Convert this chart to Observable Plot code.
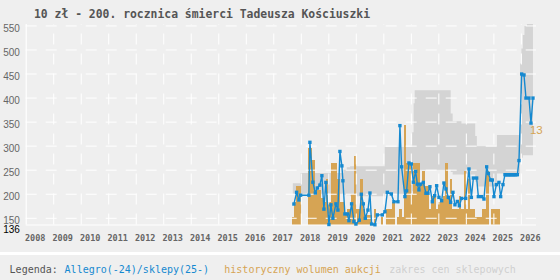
<!DOCTYPE html>
<html><head><meta charset="utf-8">
<script src="https://cdn.jsdelivr.net/npm/d3@7"></script>
<script src="https://cdn.jsdelivr.net/npm/@observablehq/plot@0.6"></script>
<style>
html,body{margin:0;padding:0;background:#efefef;}
#wrap{position:relative;width:560px;height:280px;overflow:hidden;background:#efefef;}
#title{position:absolute;left:34px;top:7px;font:bold 11.4px/14px "DejaVu Sans Mono",monospace;color:#555;white-space:pre;}
#chart{position:absolute;left:0;top:0;}
#strip{position:absolute;left:0;top:252px;width:560px;height:3px;background:#fff;}
.lg{position:absolute;top:263.5px;font:10px/12px "DejaVu Sans Mono",monospace;white-space:pre;}
</style></head>
<body><div id="wrap">
<div id="chart"></div>
<div id="title">10 zł - 200. rocznica śmierci Tadeusza Kościuszki</div>
<div id="strip"></div>
<span class="lg" style="left:9.6px;color:#555">Legenda:</span>
<span class="lg" style="left:64.6px;color:#1589d0">Allegro(-24)/sklepy(25-)</span>
<span class="lg" style="left:224.3px;color:#d6a454">historyczny wolumen aukcji</span>
<span class="lg" style="left:389.3px;color:#cfcfcf">zakres cen sklepowych</span>
</div>
<script>
// tick labels
const xYears = [2008,2009,2010,2011,2012,2013,2014,2015,2016,2017,2018,2019,2020,2021,2022,2023,2024,2025,2026];
const yTicks = [150,200,250,300,350,400,450,500,550];
const yMinLabel = [136];

// shop price range (step series)
const shopDate = [2017.71,2017.99,2019.55,2019.67,2019.79,2021.05,2022.05,2022.10,2022.14,2023.45,2023.52,2023.84,2024.34,2024.40,2025.13,2025.97,2026.02,2026.07,2026.13,2026.22,2026.44];
const shopMin  = [200,200,198,197,195,200,205,215,250,245,240,240,225,215,242,270,275,280,280,280,280];
const shopMax  = [222,243,250,255,257,297,328,388,415,367,351,346,320,299,322,471,502,530,549,553,553];

// Allegro / shop price line
const priceDate = [2017.731,2017.829,2017.913,2017.975,2018.276,2018.313,2018.422,2018.509,2018.582,2018.676,2018.749,2018.822,2018.895,2019.004,2019.076,2019.149,2019.258,2019.331,2019.404,2019.476,2019.513,2019.585,2019.673,2019.731,2019.829,2019.913,2019.985,2020.109,2020.182,2020.255,2020.327,2020.422,2020.495,2020.556,2020.676,2020.764,2020.945,2021.040,2021.127,2021.273,2021.367,2021.513,2021.585,2021.647,2021.767,2021.829,2021.913,2022.000,2022.073,2022.156,2022.218,2022.276,2022.338,2022.436,2022.531,2022.604,2022.676,2022.764,2022.847,2022.920,2023.004,2023.102,2023.185,2023.258,2023.345,2023.429,2023.513,2023.585,2023.673,2023.745,2023.829,2023.975,2024.095,2024.182,2024.255,2024.375,2024.436,2024.556,2024.640,2024.738,2024.800,2024.884,2024.945,2025.004,2025.091,2025.185,2025.247,2025.331,2025.404,2025.44,2025.48,2025.52,2025.56,2025.60,2025.64,2025.68,2025.72,2025.76,2025.80,2025.855,2025.913,2026.011,2026.095,2026.167,2026.276,2026.349,2026.422];
const priceValue = [179.6,204,188,198,198,308,225,202.5,213,219,238.5,169,224.6,137,178,150,180,167,289,259,228,159,159,145,180,143,138,146,200,180,150,167,202.5,138,136.5,157,157,163.5,204,200.5,184.4,184.4,342.7,257,195,207,265,263,225,247.5,221,209,221,224.6,202,202,215.6,184.4,197,217.7,193.4,186.5,223.3,211,193.4,183,204,178,185,176,191.3,191.3,252.5,193.4,233.7,233.7,195,195,190,257,243,229.6,229.6,195,220,224.6,195,220,240.6,240.6,240.6,240.6,240.6,240.6,240.6,240.6,240.6,240.6,240.6,240.6,270,450,448,400,400,348,400];

// monthly auction volume, first month = 2017-09
const volumeStartYear = 2017, volumeStartMonth = 8;
const volume = [1,3,5,5,0,0,0,10,10,8.5,4.5,4.5,4.5,3.5,3,6,3,8,8,8,6,3,3,1.5,2,2,4,9,2,2,6,2,1.2,1.2,1.2,0,2,0,0,1,0,2,2,2,3,0,1,2,1,13,8,8,4,8,8,8,5.4,7,5,5,2,3.7,3.7,2,3,3,3.7,8,3.7,6,2,2,2,3.7,2,7,2,6,2,2,1,1,1,2,2,7,0,2,2,2,2];
const volumeMaxLabel = [13];

const BLUE = "#1589d0", ORANGE = "#d6a454", GREY = "#d4d4d4";
const VOL_UNIT = 15.9; // price-axis units per auction (secondary volume scale)

const shop = shopDate.map((d,i)=>({date:d,min:shopMin[i],max:shopMax[i]}));
const prices = priceDate.map((d,i)=>({date:d,price:priceValue[i]}));
const bars = volume.map((v,i)=>({x1: volumeStartYear + (volumeStartMonth+i)/12, x2: volumeStartYear + (volumeStartMonth+i+1)/12, v}));
const lastDate = priceDate[priceDate.length-1];

const chart = Plot.plot({
  width: 560, height: 252,
  marginTop: 24, marginBottom: 27.5, marginLeft: 25.7, marginRight: 24,
  x: {domain: [2008, 2026.55], axis: null},
  y: {domain: [136, 553], axis: null},
  style: {background: "transparent", overflow: "visible"},
  marks: [
    Plot.areaY(shop, {x: "date", y1: "min", y2: "max", curve: "step-after", fill: GREY}),
    Plot.rectY(bars.filter(b=>b.v>0), {x1: "x1", x2: "x2", y1: 136, y2: d => 136 + d.v*VOL_UNIT, fill: ORANGE, inset: 0, shapeRendering: "crispEdges"}),
    Plot.ruleY(yTicks, {stroke: "#fff", strokeWidth: 1, strokeDasharray: "11,9"}),
    Plot.ruleX(xYears.slice(1), {y1: 136, y2: 553, stroke: "#fff", strokeWidth: 1, strokeDasharray: "11,9"}),
    Plot.ruleY([136], {stroke: "#fff", strokeWidth: 1.2}),
    Plot.ruleX([2008], {stroke: "#fff", strokeWidth: 1.2}),
    Plot.line(prices, {x: "date", y: "price", stroke: BLUE, strokeWidth: 1.4}),
    Plot.dot(prices, {x: "date", y: "price", symbol: "square", r: 1.9, fill: BLUE}),
    Plot.text(volumeMaxLabel, {x: lastDate, y: d => 136 + d*VOL_UNIT, text: d => String(d), textAnchor: "start", dx: -3, dy: 5, fill: ORANGE, fontSize: 11.5, fontFamily: "Liberation Sans"}),
    Plot.text(yTicks, {y: d => d, text: d => String(d), frameAnchor: "left", textAnchor: "end", dx: -6.3, dy: 2.4, fill: "#666", fontSize: 10, fontFamily: "Liberation Sans"}),
    Plot.text(yMinLabel, {y: d => d, text: d => String(d), frameAnchor: "left", textAnchor: "end", dx: -6.3, dy: 4.6, fill: "#000", fontSize: 10, fontFamily: "Liberation Sans"}),
    Plot.text(xYears, {x: d => d, text: d => String(d), frameAnchor: "bottom", dy: 15.5, dx: -1.3, textAnchor: "start", fill: "#666", fontSize: 8.5, fontWeight: "bold", fontFamily: "DejaVu Sans Mono"})
  ]
});
document.getElementById("chart").appendChild(chart);
</script>
</body></html>
